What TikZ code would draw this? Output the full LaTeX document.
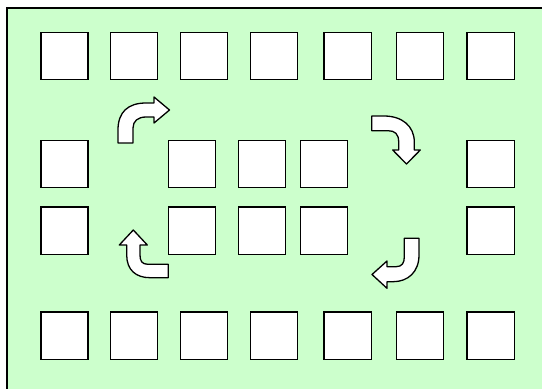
\documentclass[tikz,border=0pt]{standalone}
\usepackage{xcolor}
\definecolor{Col1}{RGB}{204,255,204}
\usepackage{tikz}
\tikzstyle{Cell}=[rectangle,draw=black,fill=white,line width=1.5pt,
inner sep=0pt,minimum size=47.2pt]
\tikzstyle{Frame}=[draw=black,fill=Col1,line width=2pt]
\tikzstyle{Turn}=[draw=black,fill=white,line width=1.3pt,line join=round]

\begin{document}
\begin{tikzpicture}[x=1pt,y=-1pt]
        \useasboundingbox (0,0) rectangle (542,389);
        \clip (0,0) rectangle (542,389);
        \draw[Frame] (6.5,7.5) rectangle (560,400);
        % top row
        \node[Cell](t1)at(64.6,56){};
        \node[Cell](t2)at(134,56){};
        \node[Cell](t3)at(204,56){};
        \node[Cell](t4)at(274,56){};
        \node[Cell](t5)at(347.8,56){};
        \node[Cell](t6)at(420,56){};
        \node[Cell](t7)at(490.8,56){};
        % sides
        \node[Cell](l1)at(64.6,164){};
        \node[Cell](l2)at(64.6,230.7){};
        \node[Cell](r1)at(490.8,164){};
        \node[Cell](r2)at(490.8,230.7){};
        % centre block
        \node[Cell](c1)at(192,164){};
        \node[Cell](c2)at(262,164){};
        \node[Cell](c3)at(324,164){};
        \node[Cell](c4)at(192,230.7){};
        \node[Cell](c5)at(262,230.7){};
        \node[Cell](c6)at(324,230.7){};
        % bottom row
        \node[Cell](b1)at(64.6,335.7){};
        \node[Cell](b2)at(134,335.7){};
        \node[Cell](b3)at(204,335.7){};
        \node[Cell](b4)at(274,335.7){};
        \node[Cell](b5)at(347.8,335.7){};
        \node[Cell](b6)at(420,335.7){};
        \node[Cell](b7)at(490.8,335.7){};
        % turning arrows
        \draw[Turn](118,143)--(118,130)..controls(118,112)and(128,103)..(146,103)
            --(154,103)--(154,97)--(169.5,110)--(154,123)--(154,117)--(146,117)
            ..controls(138,117)and(133,121)..(133,128)--(133,143)--cycle;
        \draw[Turn](371.7,116)--(384,116)..controls(402,116)and(414.3,126)..(414.3,142)
            --(414.3,150)--(420.3,150)--(406.5,164)--(392.7,150)--(398.7,150)
            --(398.7,142)..controls(398.7,134)and(395,130.7)..(388,130.7)
            --(371.7,130.7)--cycle;
        \draw[Turn](404.3,238.3)--(419,238.3)--(419,255)..controls(419,272)and(408,281.7)
            ..(393,281.7)--(387,281.7)--(387,288.3)--(372,274.5)--(387,261)
            --(387,266.7)--(396,266.7)..controls(402,266.7)and(404.3,263)
            ..(404.3,257)--cycle;
        \draw[Turn](168.3,264.3)--(148,264.3)..controls(142,264.3)and(140,261)..(140,255)
            --(140,245)--(147.3,245)--(133.3,230)--(119.3,245)--(126.7,245)
            --(126.7,255)..controls(126.7,270)and(136,277.7)..(150,277.7)
            --(168.3,277.7)--cycle;
    \end{tikzpicture}
\end{document}
